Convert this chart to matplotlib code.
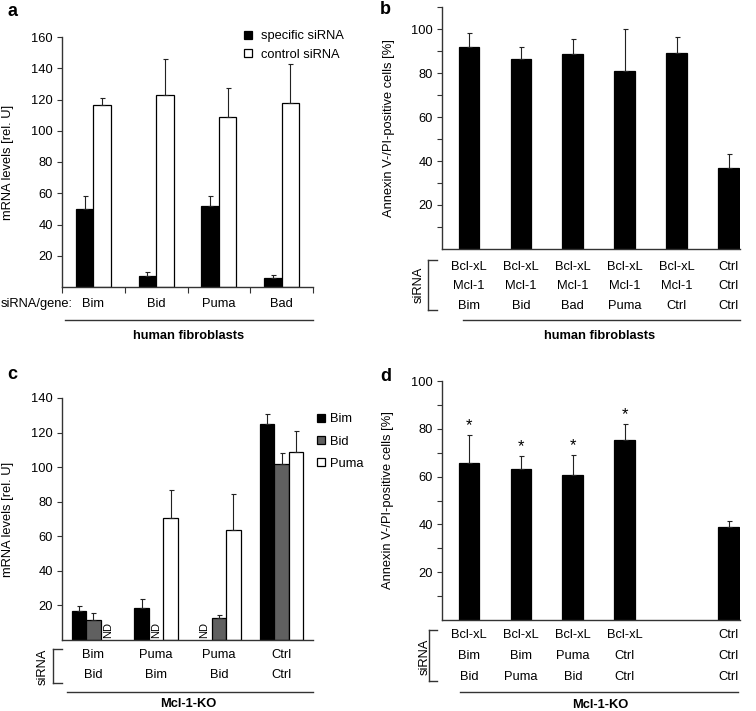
import numpy as np
import matplotlib
matplotlib.use("Agg")
import matplotlib.pyplot as plt
from matplotlib.lines import Line2D

plt.rcParams['font.family'] = ['Liberation Sans', 'DejaVu Sans']
plt.rcParams['font.size'] = 9.3

W, H = 756, 711

# ---- data ----
# a: mRNA levels in human fibroblasts
genes_a = ['Bim', 'Bid', 'Puma', 'Bad']
spec_a = [50, 7, 52, 6]
spec_a_err = [8, 2.5, 6, 1.5]
ctrl_a = [116.5, 123, 109, 118]
ctrl_a_err = [4.5, 23, 18.5, 25]

# b: apoptosis in human fibroblasts
sirna_b = [['Bcl-xL', 'Mcl-1', 'Bim'], ['Bcl-xL', 'Mcl-1', 'Bid'],
           ['Bcl-xL', 'Mcl-1', 'Bad'], ['Bcl-xL', 'Mcl-1', 'Puma'],
           ['Bcl-xL', 'Mcl-1', 'Ctrl'], ['Ctrl', 'Ctrl', 'Ctrl']]
apop_b = [92, 86.5, 88.5, 81, 89, 37]
apop_b_err = [6, 5.5, 7, 19, 7.5, 6]

# c: mRNA levels in Mcl-1-KO (nan = not detected)
sirna_c = [['Bim', 'Bid'], ['Puma', 'Bim'], ['Puma', 'Bid'], ['Ctrl', 'Ctrl']]
bim_c = [16.7, 18.3, np.nan, 125.2]
bim_c_err = [3.1, 5.7, 0, 5.4]
bid_c = [11.5, np.nan, 12.5, 101.8]
bid_c_err = [3.9, 0, 1.9, 6.2]
puma_c = [np.nan, 70.8, 63.5, 108.5]
puma_c_err = [0, 16.2, 21.1, 12.5]

# d: apoptosis in Mcl-1-KO
sirna_d = [['Bcl-xL', 'Bim', 'Bid'], ['Bcl-xL', 'Bim', 'Puma'],
           ['Bcl-xL', 'Puma', 'Bid'], ['Bcl-xL', 'Ctrl', 'Ctrl'],
           ['Ctrl', 'Ctrl', 'Ctrl']]
slot_d = [0, 1, 2, 3, 5]
apop_d = [65.5, 63, 60.5, 75.5, 39]
apop_d_err = [12, 5.5, 8.5, 6.5, 2.5]
signif_d = [True, True, True, True, False]

AX = '#333333'

fig = plt.figure(figsize=(W / 100, H / 100), dpi=100)


def add_ax(l, t, r, b):
    return fig.add_axes([l / W, 1 - b / H, (r - l) / W, (b - t) / H])


def style(ax):
    for s in ['top', 'right']:
        ax.spines[s].set_visible(False)
    for s in ['left', 'bottom']:
        ax.spines[s].set_color(AX)
        ax.spines[s].set_linewidth(1)
    ax.tick_params(axis='y', which='both', length=3.5, width=0.8, color=AX, pad=3)
    ax.tick_params(axis='x', which='both', length=0)


def errs(ax, x, y, e):
    ax.errorbar(x, y, yerr=[np.zeros(len(e)), e], fmt='none', ecolor='#222222',
                elinewidth=0.8, capsize=1.8, capthick=0.8)


def below(ax, x, dy, s, **kw):
    ax.annotate(s, xy=(x, 0), xycoords=('data', 'axes fraction'),
                xytext=(0, -dy * 0.72), textcoords='offset points',
                ha='center', va='center', annotation_clip=False, **kw)


def fline(x0, y0, x1, y1):
    fig.add_artist(Line2D([x0 / W, x1 / W], [1 - y0 / H, 1 - y1 / H],
                          transform=fig.transFigure, color=AX, lw=1))


def ftext(x, y, s, **kw):
    fig.text(x / W, 1 - y / H, s, **kw)


def bracket(x, y0, y1, x1):
    fline(x1, y0, x, y0)
    fline(x, y0, x, y1)
    fline(x, y1, x1, y1)


# ---- panel a ----
ax = add_ax(62, 37, 313, 287)
style(ax)
xa = np.arange(len(genes_a))
wa = 0.28
b1 = ax.bar(xa - wa / 2, spec_a, wa, color='black', edgecolor='black', lw=0.9)
b2 = ax.bar(xa + wa / 2, ctrl_a, wa, color='white', edgecolor='black', lw=0.9)
errs(ax, xa - wa / 2, spec_a, spec_a_err)
errs(ax, xa + wa / 2, ctrl_a, ctrl_a_err)
ax.set_xlim(-0.5, 3.5)
ax.set_ylim(0, 160)
ax.set_yticks(np.arange(20, 161, 20))
ax.set_xticks(np.arange(-0.5, 3.6, 1))
ax.set_xticklabels([])
ax.tick_params(axis='x', length=4, width=0.8, color=AX, direction='out')
ax.set_ylabel('mRNA levels [rel. U]')
ax.yaxis.set_label_coords(-0.19, 0.5)
for i, g in enumerate(genes_a):
    below(ax, i, 17, g)
ftext(73, 304, 'siRNA/gene:', ha='right', va='center')
fline(65, 320, 313, 320)
ftext(189, 336, 'human fibroblasts', ha='center', va='center', fontweight='bold')
fig.legend([b1, b2], ['specific siRNA', 'control siRNA'], loc='upper left',
           bbox_to_anchor=(238 / W, 1 - 24 / H), frameon=False, borderpad=0,
           handlelength=0.6, handleheight=0.6, handletextpad=0.7, labelspacing=0.5)

# ---- panel b ----
ax = add_ax(442, 7, 740, 249)
style(ax)
xb = np.arange(len(apop_b))
ax.bar(xb, apop_b, 0.4, color='black', edgecolor='black', lw=0.9)
errs(ax, xb, apop_b, apop_b_err)
ax.set_xlim(-0.52, 5.22)
ax.set_ylim(0, 110)
ax.set_yticks(np.arange(20, 101, 20))
ax.set_yticks(np.arange(10, 111, 10), minor=True)
ax.set_xticks([])
ax.set_ylabel('Annexin V-/PI-positive cells [%]')
ax.yaxis.set_label_coords(-0.158, 0.5)
for i, rows in enumerate(sirna_b):
    for k, s in enumerate(rows):
        below(ax, i, 18 + 19.5 * k, s)
bracket(428, 260, 310, 437)
ftext(419, 285, 'siRNA', rotation=90, ha='center', va='center')
fline(463, 320, 740, 320)
ftext(600, 336, 'human fibroblasts', ha='center', va='center', fontweight='bold')

# ---- panel c ----
ax = add_ax(62, 398, 313, 640)
style(ax)
xc = np.arange(len(sirna_c))
wc = 0.23
series = [(bim_c, bim_c_err, 'black', 'Bim'), (bid_c, bid_c_err, '#606060', 'Bid'),
          (puma_c, puma_c_err, 'white', 'Puma')]
handles = []
for j, (vals, e, col, lab) in enumerate(series):
    xs = xc + (j - 1) * wc
    handles.append(ax.bar(xs, vals, wc, color=col, edgecolor='black', lw=0.9, label=lab))
    errs(ax, xs, vals, e)
    for x, v in zip(xs, vals):
        if np.isnan(v):
            ax.text(x, 1, 'ND', rotation=90, ha='center', va='bottom', fontsize=8)
ax.set_xlim(-0.5, 3.5)
ax.set_ylim(0, 140)
ax.set_yticks(np.arange(20, 141, 20))
ax.set_xticks([])
ax.set_ylabel('mRNA levels [rel. U]')
ax.yaxis.set_label_coords(-0.19, 0.5)
for i, rows in enumerate(sirna_c):
    for k, s in enumerate(rows):
        below(ax, i, 15 + 20 * k, s)
bracket(53, 649, 683, 62)
ftext(43, 667, 'siRNA', rotation=90, ha='center', va='center')
fline(67, 692, 313, 692)
ftext(188, 704, 'Mcl-1-KO', ha='center', va='center', fontweight='bold')
fig.legend(handles, ['Bim', 'Bid', 'Puma'], loc='upper left',
           bbox_to_anchor=(311 / W, 1 - 407 / H), frameon=False, borderpad=0,
           handlelength=0.6, handleheight=0.6, handletextpad=0.35, labelspacing=0.78)

# ---- panel d ----
ax = add_ax(442, 381, 740, 620)
style(ax)
ax.bar(slot_d, apop_d, 0.4, color='black', edgecolor='black', lw=0.9)
errs(ax, slot_d, apop_d, apop_d_err)
for x, v, e, s in zip(slot_d, apop_d, apop_d_err, signif_d):
    if s:
        ax.annotate('*', (x, v + e), xytext=(0, 1.5), textcoords='offset points',
                    ha='center', va='bottom', fontsize=12)
ax.set_xlim(-0.52, 5.22)
ax.set_ylim(0, 100)
ax.set_yticks(np.arange(20, 101, 20))
ax.set_yticks(np.arange(10, 100, 10), minor=True)
ax.set_xticks([])
ax.set_ylabel('Annexin V-/PI-positive cells [%]')
ax.yaxis.set_label_coords(-0.161, 0.5)
for x, rows in zip(slot_d, sirna_d):
    for k, s in enumerate(rows):
        below(ax, x, 15 + 21 * k, s)
bracket(429, 630, 681, 437)
ftext(425, 657, 'siRNA', rotation=90, ha='center', va='center')
fline(460, 692, 738, 692)
ftext(600, 705, 'Mcl-1-KO', ha='center', va='center', fontweight='bold')

# panel letters
for x, y, s in [(7, 12, 'a'), (380, 9, 'b'), (7, 374, 'c'), (380, 376, 'd')]:
    ftext(x, y, s, ha='left', va='center', fontsize=13, fontweight='bold')

fig.savefig('out.png', dpi=100)
